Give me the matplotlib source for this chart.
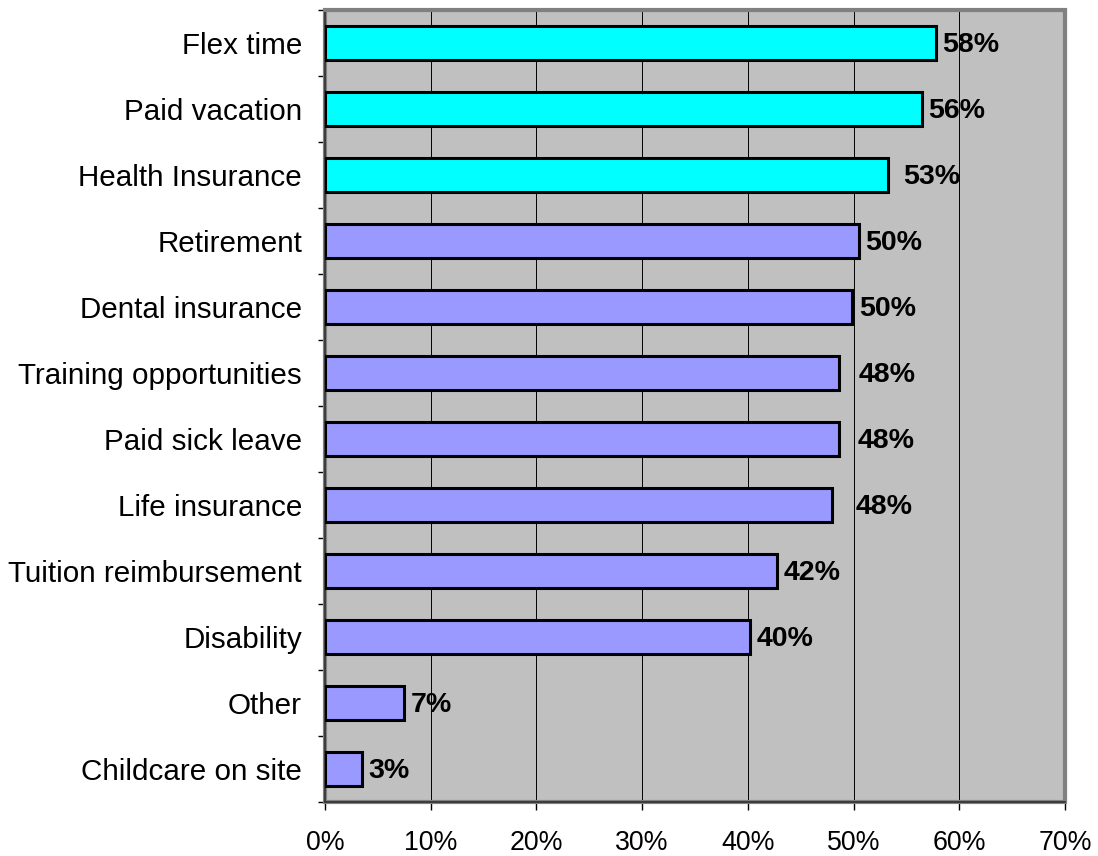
import numpy as np
import matplotlib
matplotlib.use("Agg")
import matplotlib.pyplot as plt
from matplotlib.patches import Rectangle
from matplotlib.ticker import FixedLocator, FuncFormatter

# ── Data (top to bottom) ──────────────────────────────────────────────────────
BENEFITS = ["Flex time", "Paid vacation", "Health Insurance", "Retirement",
            "Dental insurance", "Training opportunities", "Paid sick leave",
            "Life insurance", "Tuition reimbursement", "Disability", "Other",
            "Childcare on site"]
SHARE = [57.8, 56.5, 53.3, 50.5, 49.9, 48.6, 48.6, 48.0, 42.8, 40.2, 7.5, 3.5]
LABELS = ["58%", "56%", "53%", "50%", "50%", "48%", "48%", "48%", "42%",
          "40%", "7%", "3%"]
HIGHLIGHT = [True, True, True, False, False, False, False, False, False,
             False, False, False]

# extra label spacing (points) - labels were hand-nudged in the original
NUDGE = [0, 0, 6, 0, 0, 10, 9, 12, 0, 0, 0, 0]

# ── Style ─────────────────────────────────────────────────────────────────────
plt.rcParams['font.family'] = ['Liberation Sans', 'DejaVu Sans']
CYAN = "#00FFFF"
LAVENDER = "#9999FF"
PLOT_BG = "#C0C0C0"

fig = plt.figure(figsize=(10.98, 8.56), dpi=100)
ax = fig.add_axes([0.2960, 0.0631, 0.6739, 0.9252])
ax.set_facecolor(PLOT_BG)

n = len(BENEFITS)
ypos = np.arange(n)
colors = [CYAN if h else LAVENDER for h in HIGHLIGHT]

ax.barh(ypos, SHARE, height=0.51, color=colors, edgecolor="black",
        linewidth=2.2, zorder=3)

for y, v, lab, nud in zip(ypos, SHARE, LABELS, NUDGE):
    ax.annotate(lab, xy=(v, y), xytext=(4.5 + nud, -1.5), textcoords="offset points",
                ha="left", va="center", fontsize=20.5, fontweight="bold",
                color="black", zorder=4)

ax.set_xlim(0, 70)
ax.set_ylim(n - 0.5, -0.5)

# x axis
ax.xaxis.set_major_locator(FixedLocator(np.arange(0, 71, 10)))
ax.xaxis.set_major_formatter(FuncFormatter(lambda v, p: f"{v:.0f}%"))
ax.tick_params(axis="x", direction="out", length=6, width=1, pad=14,
               labelsize=19.3, colors="black")
ax.grid(axis="x", color="black", linewidth=0.7, zorder=1)
ax.set_axisbelow(True)

# y axis: labels at centres, ticks at category boundaries
ax.set_yticks(ypos)
ax.set_yticklabels(BENEFITS)
ax.tick_params(axis="y", which="major", length=0, pad=16.5, labelsize=21.3)
ax.yaxis.set_minor_locator(FixedLocator(np.arange(-0.5, n, 1.0)))
ax.tick_params(axis="y", which="minor", direction="out", length=5, width=1,
               color="black")

# plot-area frame: grey inner border, dark axis lines
for side in ["top", "right"]:
    ax.spines[side].set_color("#808080")
    ax.spines[side].set_linewidth(2.2)
for side in ["left", "bottom"]:
    ax.spines[side].set_color("#303030")
    ax.spines[side].set_linewidth(1.2)
ax.add_patch(Rectangle((0, 0), 1, 1, transform=ax.transAxes, fill=False,
                       edgecolor="#808080", linewidth=3.0, zorder=2,
                       clip_on=False))

fig.savefig("out.png", dpi=100, facecolor="white")
